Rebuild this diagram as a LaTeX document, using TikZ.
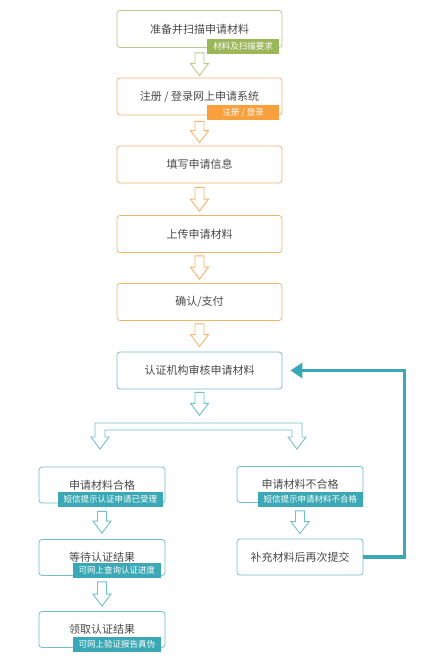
\documentclass[tikz,border=0pt]{standalone}
\usepackage{fontspec}
\setmainfont{Noto Sans CJK SC}
\usetikzlibrary{arrows.meta,calc}
\definecolor{gbd}{HTML}{B7CB8A}
\definecolor{gbg}{HTML}{9CB65A}
\definecolor{obd}{HTML}{F3B56C}
\definecolor{obg}{HTML}{F7A03C}
\definecolor{tbd}{HTML}{72C0CA}
\definecolor{tbg}{HTML}{3BA8B5}
\definecolor{txt}{HTML}{4A4A4A}
\newcommand\harrow[3]{\draw[draw=#3, line width=0.9pt, fill=white, line join=miter]
  let \p1=(#1), \p2=(#2) in
  (\x1-4.5pt,\y1) -- (\x1+4.5pt,\y1) -- (\x1+4.5pt,\y2+12pt) -- (\x1+9pt,\y2+12pt)
  -- (\x1,\y2) -- (\x1-9pt,\y2+12pt) -- (\x1-4.5pt,\y2+12pt) -- cycle;}
\begin{document}
\begin{tikzpicture}[x=1pt,y=-1pt,
  box/.style={draw=#1, rounded corners=3pt, line width=0.8pt, fill=white, text=txt,
    font=\fontsize{11}{13}\selectfont, minimum width=165pt, minimum height=37pt, inner sep=0pt},
  sbox/.style={box=#1, minimum width=126pt, minimum height=36pt},
  badge/.style={fill=#1, text=white, font=\fontsize{8.5}{10}\selectfont,
    inner xsep=6pt, inner ysep=0pt, minimum height=15pt, anchor=south east},
  feedback/.style={draw=tbg, line width=3.5pt, line join=miter, -{Triangle[length=12pt,width=15pt]}}
]
\useasboundingbox (0,0) rectangle (432,659);
% main column
\node[box=gbd] (b1) at (199.5,29) {准备并扫描申请材料};
\node[box=obd] (b2) at (199.5,96.5) {注册 / 登录网上申请系统};
\node[box=obd] (b3) at (199.5,164.5) {填写申请信息};
\node[box=obd] (b4) at (199.5,234) {上传申请材料};
\node[box=obd] (b5) at (199.5,302) {确认/支付};
\node[box=tbd] (b6) at (199.5,370.5) {认证机构审核申请材料};
% left column
\node[sbox=tbd] (b7) at (102,485) {申请材料合格};
\node[sbox=tbd] (b8) at (102,557.5) {等待认证结果};
\node[sbox=tbd] (b9) at (102,629.5) {领取认证结果};
% right column
\node[sbox=tbd] (b10) at (300,484.5) {申请材料不合格};
\node[sbox=tbd] (b11) at (300,557) {补充材料后再次提交};
% badges
\node[badge=gbg, minimum width=72pt] (g1) at ($(b1.south east)+(-3,6)$) {材料及扫描要求};
\node[badge=obg, minimum width=72pt] (g2) at ($(b2.south east)+(-3,5)$) {注册 / 登录};
\node[badge=tbg] (g7) at ($(b7.south east)+(-2,4)$) {短信提示认证申请已受理};
\node[badge=tbg] (g8) at ($(b8.south east)+(-4,2)$) {可网上查询认证进度};
\node[badge=tbg] (g9) at ($(b9.south east)+(-4,4)$) {可网上验证报告真伪};
\node[badge=tbg] (g10) at ($(b10.south east)+(0,4)$) {短信提示申请材料不合格};
% hollow arrows
\harrow{$(b1.south)+(0,5)$}{$(b2.north)+(0,-2)$}{gbd}
\harrow{$(b2.south)+(0,6)$}{$(b3.north)+(0,-3)$}{obd}
\harrow{$(b3.south)+(0,4)$}{$(b4.north)+(0,-4)$}{obd}
\harrow{$(b4.south)+(0,3)$}{$(b5.north)+(0,-4)$}{obd}
\harrow{$(b5.south)+(0,3)$}{$(b6.north)+(0,-5)$}{obd}
\harrow{$(b6.south)+(0,3)$}{$(b6.south)+(0,26)$}{tbd}
\harrow{$(b7.south)+(0,8)$}{$(b8.north)+(0,-6)$}{tbd}
\harrow{$(b8.south)+(0,6)$}{$(b9.north)+(0,-5)$}{tbd}
\harrow{$(b10.south)+(0,8)$}{$(b11.north)+(0,-5)$}{tbd}
% branching hollow bracket
\draw[draw=tbd, line width=0.9pt, fill=white, line join=miter]
  (91,437) -- (95,437) -- (95,423) -- (302,423) -- (302,437) -- (306,437) -- (297,449)
  -- (288,437) -- (292,437) -- (292,430) -- (105,430) -- (105,437) -- (109,437)
  -- (100,449) -- cycle;
% feedback loop
\draw[feedback] (b11.east) -- ++(41,0) |- ([xshift=8pt]b6.east);
\end{tikzpicture}
\end{document}
